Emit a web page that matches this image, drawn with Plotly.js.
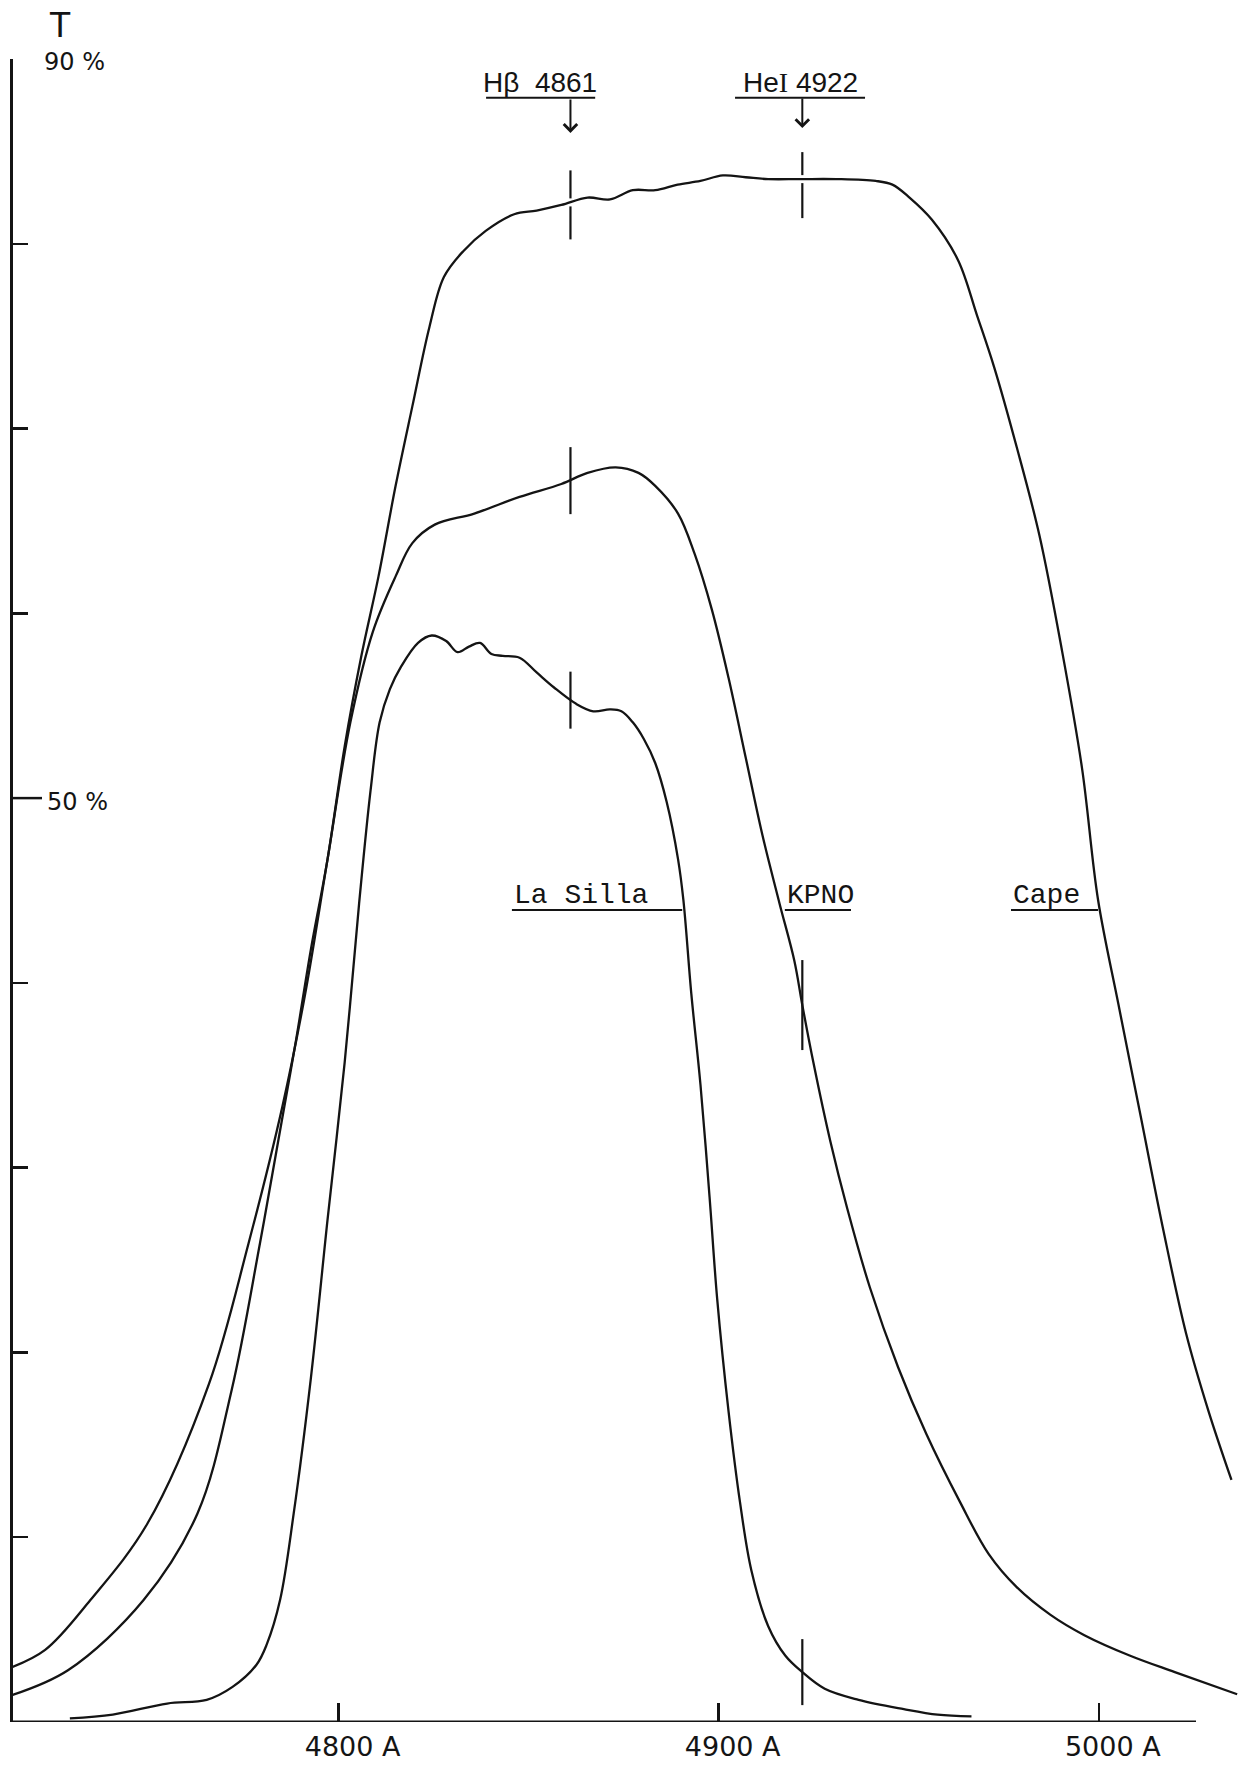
<!DOCTYPE html>
<html>
<head>
<meta charset="utf-8">
<script src="https://cdn.plot.ly/plotly-3.0.1.min.js"></script>
<style>
  html, body { margin: 0; padding: 0; background: #ffffff; }
  #chart { width: 1254px; height: 1771px; }
</style>
</head>
<body>
<div id="chart"></div>
<script>
// Transmission curves of three H-beta interference filters (wavelength in Å, T in %)
const laSillaWave = [4729.3, 4740.6, 4754.9, 4765.3, 4772.1, 4778.4, 4781.1, 4784.6, 4788.2, 4792.7,
  4797.1, 4801.6, 4805.4, 4808.4, 4810.8, 4813.5, 4816.4, 4820.9, 4824.5, 4828.3,
  4831.3, 4834.3, 4837.2, 4840.2, 4843.2, 4847.6, 4852.1, 4856.6, 4862.5, 4867.0,
  4871.4, 4874.4, 4877.4, 4880.3, 4883.3, 4886.3, 4889.3, 4890.7, 4892.8, 4895.2,
  4897.6, 4899.6, 4902.6, 4905.6, 4908.6, 4913.0, 4917.5, 4922.0, 4927.9, 4936.8,
  4948.7, 4957.6, 4966.5];
const laSillaT = [0.2, 0.4, 1.0, 1.2, 1.9, 3.1, 4.2, 6.6, 11.3, 18.6,
  27.2, 35.7, 44.3, 50.4, 54.1, 55.9, 57.1, 58.4, 58.8, 58.5,
  57.9, 58.2, 58.4, 57.8, 57.7, 57.6, 56.8, 56.0, 55.1, 54.7,
  54.8, 54.7, 54.1, 53.2, 51.9, 49.8, 46.7, 44.5, 39.4, 34.5,
  28.4, 22.9, 16.8, 11.9, 8.2, 5.2, 3.6, 2.7, 1.8, 1.2,
  0.7, 0.4, 0.3];

const kpnoWave = [4713.3, 4722.8, 4734.7, 4749.6, 4765.9, 4776.3, 4785.2, 4791.2, 4797.1, 4803.1,
  4809.0, 4815.0, 4819.4, 4825.3, 4835.7, 4847.6, 4858.6, 4865.5, 4872.9, 4878.9,
  4883.3, 4889.3, 4893.7, 4898.2, 4902.6, 4907.1, 4911.5, 4916.0, 4919.9, 4922.0,
  4924.9, 4929.4, 4933.8, 4939.8, 4947.2, 4954.6, 4963.5, 4971.0, 4978.4, 4987.3,
  4996.2, 5008.1, 5020.0, 5036.4];
const kpnoT = [2.9, 3.9, 6.6, 10.7, 18.3, 25.9, 33.3, 39.4, 46.7, 54.1,
  59.0, 62.0, 63.8, 64.8, 65.4, 66.3, 67.0, 67.6, 67.9, 67.6,
  66.9, 65.4, 63.2, 60.2, 56.5, 52.2, 48.0, 44.3, 41.2, 38.8,
  35.7, 31.4, 27.8, 23.5, 19.2, 15.6, 11.9, 9.1, 7.3, 5.8,
  4.7, 3.6, 2.7, 1.5];

const capeWave = [4713.3, 4728.8, 4748.7, 4762.9, 4771.9, 4779.3, 4785.2, 4788.8, 4792.7, 4797.1,
  4801.6, 4806.0, 4810.5, 4815.0, 4819.4, 4823.9, 4827.7, 4832.8, 4838.7, 4846.2,
  4852.1, 4858.6, 4865.5, 4871.4, 4877.4, 4883.3, 4889.2, 4895.2, 4901.1, 4907.1,
  4913.0, 4921.3, 4930.9, 4941.3, 4945.7, 4950.2, 4956.1, 4963.0, 4968.0, 4972.5,
  4978.4, 4984.4, 4990.3, 4995.6, 4999.8, 5005.2, 5011.1, 5017.0, 5023.0, 5028.9,
  5034.9];
const capeT = [1.4, 2.8, 6.6, 11.3, 18.0, 25.9, 32.7, 36.9, 41.8, 46.7,
  52.8, 57.7, 62.0, 66.9, 71.2, 75.5, 78.2, 79.6, 80.7, 81.6,
  81.8, 82.1, 82.5, 82.4, 82.9, 82.9, 83.2, 83.4, 83.7, 83.6,
  83.5, 83.5, 83.5, 83.4, 83.2, 82.5, 81.3, 79.1, 76.1, 73.3,
  69.0, 64.2, 58.0, 51.6, 44.5, 38.8, 32.7, 26.6, 21.0, 16.8,
  13.1];

// Spectral lines marked on the curves
const lineNames = ['H\u03B2\u00A0\u00A04861', "He<span style='font-family:Liberation Serif, serif'>I</span>\u00A04922"];
const lineWaves = [4861, 4922];

// Axis ticks
const xTickVals = [4800, 4900, 5000];
const xTickText = ['4800\u00A0A', '4900\u00A0A', '5000\u00A0A'];
const yTickVals = [10, 20, 30, 40, 50, 60, 70, 80, 90];

// Filter labels
const filterNames = ['La\u00A0Silla', 'KPNO', 'Cape'];

// ---------------------------------------------------------------------------
const INK = '#141414';
const X_RANGE = [4714.34, 5040.83];
const Y_RANGE = [0, 90];
const PX_PER_PCT = 1663 / 90;   // plot height / y span
const AXIS_END = 5025.57;       // right end of the drawn wavelength axis

function interp(xs, ys, x) {
  for (let i = 0; i < xs.length - 1; i++) {
    if (x >= xs[i] && x <= xs[i + 1]) {
      const f = (x - xs[i]) / (xs[i + 1] - xs[i]);
      return ys[i] + f * (ys[i + 1] - ys[i]);
    }
  }
  return null;
}

const curveStyle = { color: INK, width: 2.3, shape: 'spline', smoothing: 1.0 };
const traces = [
  { x: capeWave, y: capeT, name: 'Cape' },
  { x: kpnoWave, y: kpnoT, name: 'KPNO' },
  { x: laSillaWave, y: laSillaT, name: 'La Silla' }
].map(t => Object.assign(t, { type: 'scatter', mode: 'lines', line: curveStyle, hoverinfo: 'x+y+name' }));

const shapes = [];
const annotations = [];

// wavelength axis line
shapes.push({ type: 'line', xref: 'x', yref: 'y', x0: X_RANGE[0], x1: AXIS_END, y0: 0, y1: 0,
  line: { color: INK, width: 3 } });
// longer tick at 50 %
shapes.push({ type: 'line', xref: 'paper', yref: 'y', x0: 0, x1: 29 / 1241, y0: 50, y1: 50,
  line: { color: INK, width: 2.5 } });

// short vertical marks where the spectral lines cross each curve
// [curve waves, curve T, line index, px above, px below, gap px]
const markSpec = [
  [capeWave, capeT, 0, 32, 37, 4],
  [kpnoWave, kpnoT, 0, 33, 34, 0],
  [laSillaWave, laSillaT, 0, 28, 29, 0],
  [capeWave, capeT, 1, 27, 39, 4],
  [kpnoWave, kpnoT, 1, 45, 45, 0],
  [laSillaWave, laSillaT, 1, 33, 33, 0]
];
markSpec.forEach(([wx, wy, li, up, dn, gap]) => {
  const w = lineWaves[li];
  const t = interp(wx, wy, w);
  const segs = gap > 0 ? [[t + gap / PX_PER_PCT, t + up / PX_PER_PCT], [t - dn / PX_PER_PCT, t - gap / PX_PER_PCT]]
                       : [[t - dn / PX_PER_PCT, t + up / PX_PER_PCT]];
  segs.forEach(([a, b]) => shapes.push({ type: 'line', xref: 'x', yref: 'y', x0: w, x1: w, y0: a, y1: b,
    line: { color: INK, width: 2.2 } }));
});

// spectral-line labels with underline and arrow
const lineLabelFont = { family: 'Liberation Sans, Arial, sans-serif', size: 28, color: INK };
const lineLabelShift = [-30, -2];
const lineUnderline = [[4838.8, 4867.5], [4904.3, 4938.5]];
const arrowTip = [86.0, 86.26];
const arrowLen = [35, 31];
lineWaves.forEach((w, i) => {
  annotations.push({ xref: 'x', yref: 'y', x: w, y: 88.75, xshift: lineLabelShift[i],
    text: lineNames[i], showarrow: false, font: lineLabelFont, xanchor: 'center', yanchor: 'middle' });
  shapes.push({ type: 'line', xref: 'x', yref: 'y', x0: lineUnderline[i][0], x1: lineUnderline[i][1],
    y0: 87.9, y1: 87.9, line: { color: INK, width: 2 } });
  annotations.push({ xref: 'x', yref: 'y', x: w, y: arrowTip[i], ax: 0, ay: -arrowLen[i], text: '',
    showarrow: true, arrowhead: 4, arrowsize: 1.3, arrowwidth: 2, arrowcolor: INK });
});

// filter name labels (typewritten) with their underlines
const filterFont = { family: 'Liberation Mono, Courier New, monospace', size: 28, color: INK };
const filterLabelX = [4845.6, 4917.4, 4976.9];
const filterUnderline = [[4845.6, 4890.4], [4917.4, 4934.8], [4976.9, 4999.8]];
filterNames.forEach((n, i) => {
  annotations.push({ xref: 'x', yref: 'y', x: filterLabelX[i], y: 44.75, text: n, showarrow: false,
    font: filterFont, xanchor: 'left', yanchor: 'middle' });
  shapes.push({ type: 'line', xref: 'x', yref: 'y', x0: filterUnderline[i][0], x1: filterUnderline[i][1],
    y0: 43.95, y1: 43.95, line: { color: INK, width: 2 } });
});

// transmission axis labels
const axisFont = { family: 'DejaVu Sans, sans-serif', size: 24, color: INK };
annotations.push({ xref: 'paper', yref: 'paper', x: 47 / 1241, y: 1.0204, text: 'T', showarrow: false,
  font: { family: 'DejaVu Sans, sans-serif', size: 33, color: INK }, xanchor: 'center', yanchor: 'middle' });
annotations.push({ xref: 'paper', yref: 'paper', x: 29 / 1241, y: 0.9982, text: '90\u00A0%', showarrow: false,
  font: axisFont, xanchor: 'left', yanchor: 'middle' });
annotations.push({ xref: 'paper', yref: 'y', x: 32 / 1241, y: 49.8, text: '50\u00A0%', showarrow: false,
  font: axisFont, xanchor: 'left', yanchor: 'middle' });

const layout = {
  width: 1254, height: 1771,
  margin: { l: 13, r: 0, t: 59, b: 49, pad: 0 },
  paper_bgcolor: '#ffffff', plot_bgcolor: '#ffffff',
  showlegend: false,
  xaxis: {
    range: X_RANGE, showgrid: false, zeroline: false, showline: false,
    ticks: 'inside', ticklen: 19, tickwidth: 2.5, tickcolor: INK,
    tickmode: 'array', tickvals: xTickVals, ticktext: xTickText,
    ticklabelshift: 14, ticklabelstandoff: 6,
    tickfont: { family: 'DejaVu Sans, sans-serif', size: 27, color: INK }
  },
  yaxis: {
    range: Y_RANGE, showgrid: false, zeroline: false,
    showline: true, linecolor: INK, linewidth: 3,
    ticks: 'inside', ticklen: 15, tickwidth: 2.5, tickcolor: INK,
    tickmode: 'array', tickvals: yTickVals, showticklabels: false
  },
  shapes: shapes,
  annotations: annotations
};

Plotly.newPlot('chart', traces, layout, { displayModeBar: false, staticPlot: true });
</script>
</body>
</html>
